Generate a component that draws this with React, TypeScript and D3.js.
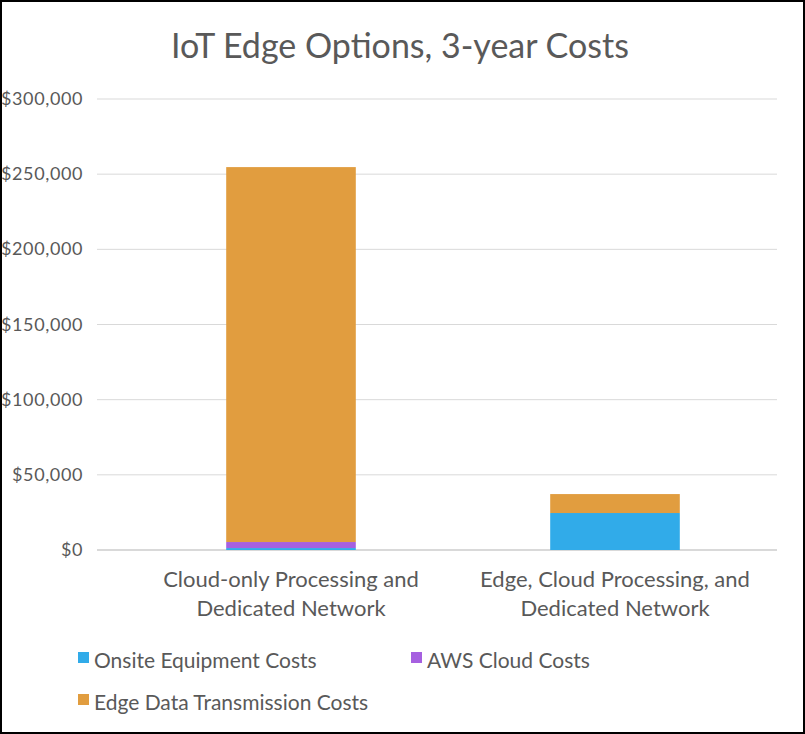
import React from "react";
import * as d3 from "d3";

const categories = ["Cloud-only Processing and|Dedicated Network", "Edge, Cloud Processing, and|Dedicated Network"];
const seriesNames = ["Onsite Equipment Costs", "AWS Cloud Costs", "Edge Data Transmission Costs"];
const colors = ["#31abe9", "#a660e0", "#e19d3f"];
const onsite = [1300, 24600];
const aws = [4000, 0];
const edge = [249400, 12600];
const yTicks = [0, 50000, 100000, 150000, 200000, 250000, 300000];

export default function App() {
  const W = 805, H = 734;
  const left = 97, right = 777, top = 99, bottom = 550;
  const x = d3.scaleBand().domain(categories).range([129, 777]).paddingInner(0.6).paddingOuter(0.3);
  const y = d3.scaleLinear().domain([0, 300000]).range([bottom, top]);
  const rows = categories.map((c, i) => ({ c, onsite: onsite[i], aws: aws[i], edge: edge[i] }));
  const stack = d3.stack<any>().keys(["onsite", "aws", "edge"])(rows);
  const fmt = (v: number) => "$" + d3.format(",")(v);
  const font = "Lato, 'Open Sans', sans-serif";
  return (
    <svg width={W} height={H} style={{ position: "absolute", left: 0, top: 0 }} fontFamily={font}>
      <rect x={1} y={1} width={W - 2} height={H - 2} fill="#fff" stroke="#000" strokeWidth={2} />
      <text x={400} y={58} textAnchor="middle" fontSize={34} fill="#595959">IoT Edge Options, 3-year Costs</text>
      {yTicks.map(t => (
        <g key={t}>
          <line x1={left} x2={right} y1={y(t)} y2={y(t)} stroke="#d9d9d9" strokeWidth={t === 0 ? 2 : 1} />
          <text x={83} y={y(t) + 6} textAnchor="end" fontSize={18} letterSpacing={0.6} fill="#595959">{fmt(t)}</text>
        </g>
      ))}
      {stack.map((s, si) => s.map((d, i) => (
        <rect key={si + "-" + i} x={x(categories[i])} width={x.bandwidth()} y={y(d[1])}
          height={Math.max(0, y(d[0]) - y(d[1]))} fill={colors[si]} />
      )))}
      {categories.map(c => c.split("|").map((line, li) => (
        <text key={c + li} x={(x(c) as number) + x.bandwidth() / 2} y={587 + li * 29} textAnchor="middle" fontSize={22} fill="#595959">{line}</text>
      )))}
      {seriesNames.map((n, i) => {
        const lx = [78, 411, 78][i], ly = [662, 662, 704][i];
        return (
          <g key={n}>
            <rect x={lx} y={ly - 10} width={11} height={11} fill={colors[i]} />
            <text x={lx + 16} y={ly + 1} fontSize={21} fill="#595959" dominantBaseline="middle">{n}</text>
          </g>
        );
      })}
    </svg>
  );
}
